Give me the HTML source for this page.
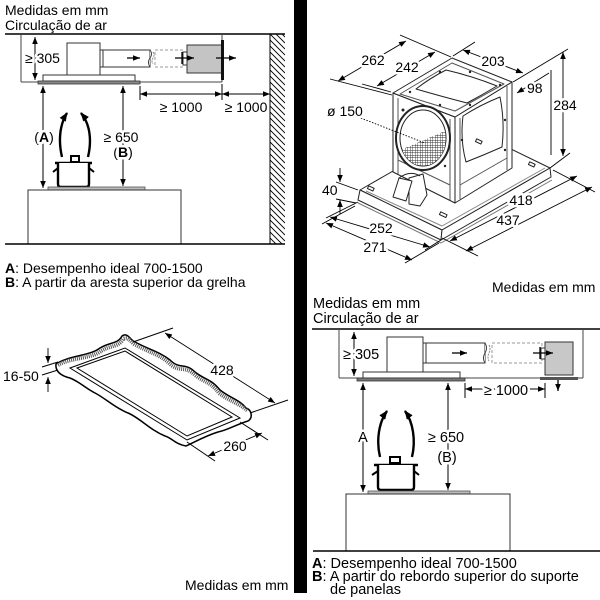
<!DOCTYPE html>
<html><head><meta charset="utf-8"><style>
html,body{margin:0;padding:0;background:#fff;}
svg{display:block;}
text{font-family:"Liberation Sans",Arial,sans-serif;fill:#000;}
.h{stroke:#fff;stroke-width:5;paint-order:stroke;stroke-linejoin:round;}
</style></head><body>
<svg width="600" height="600" viewBox="0 0 600 600" xmlns="http://www.w3.org/2000/svg">
<defs>
<marker id="a" viewBox="0 0 10 8" refX="10" refY="4" markerWidth="7" markerHeight="5.6" orient="auto-start-reverse" markerUnits="userSpaceOnUse"><path d="M0,0 L10,4 L0,8 z" fill="#000"/></marker>
<marker id="b" viewBox="0 0 10 8" refX="9" refY="4" markerWidth="9" markerHeight="8" orient="auto" markerUnits="userSpaceOnUse"><path d="M0,0 L10,4 L0,8 z" fill="#000"/></marker>
<clipPath id="wallc"><rect x="270" y="34" width="15" height="210"/></clipPath>
<clipPath id="circc"><ellipse cx="423" cy="138" rx="23" ry="28"/></clipPath>
<pattern id="grid" width="2.5" height="2.5" patternUnits="userSpaceOnUse"><rect width="2.5" height="2.5" fill="#fff"/><path d="M0,0 H2.5 M0,0 V2.5" stroke="#333" stroke-width="0.9"/></pattern>
</defs>
<rect width="600" height="600" fill="#fff"/>

<!-- divider -->
<rect x="294" y="0" width="13" height="593" fill="#000"/>

<!-- ================= TOP LEFT ================= -->
<text x="5" y="15" font-size="14">Medidas em mm</text>
<text x="5" y="30" font-size="14">Circulação de ar</text>
<line x1="5" y1="34" x2="285" y2="34" stroke="#000" stroke-width="1.5"/>
<g stroke="#444" stroke-width="1" fill="none">
<line x1="21" y1="34" x2="21" y2="82"/>
<line x1="21" y1="82" x2="222" y2="82"/>
<line x1="222" y1="34" x2="222" y2="82"/>
</g>
<rect x="67" y="43" width="33" height="32" fill="#fff" stroke="#333"/>
<rect x="100" y="50" width="50" height="17" fill="#fff" stroke="#333"/>
<line x1="103" y1="50" x2="103" y2="67" stroke="#333"/>
<path d="M150,50 q3,4 0,8 q-3,4 0,9" fill="#fff" stroke="#333"/>
<path d="M153,52 q2,3 0,6 q-2,3 0,6" fill="none" stroke="#888" stroke-dasharray="2,1"/>
<rect x="155" y="50" width="28" height="17" fill="none" stroke="#999" stroke-dasharray="3,2"/>
<rect x="183" y="52" width="4" height="13" fill="#fff" stroke="#333"/>
<rect x="187" y="45" width="35" height="28" fill="#c4c4c4" stroke="#333"/>
<rect x="221" y="40" width="3" height="40" fill="#111"/>
<line x1="127" y1="58" x2="140" y2="58" stroke="#000" stroke-width="1.3" marker-end="url(#a)"/>
<line x1="175" y1="58" x2="194" y2="58" stroke="#000" stroke-width="1.3" marker-end="url(#a)"/>
<line x1="182" y1="52" x2="182" y2="64" stroke="#000" stroke-width="1.3"/>
<line x1="216" y1="58" x2="236" y2="58" stroke="#000" stroke-width="1.3" marker-end="url(#a)"/>
<rect x="43" y="75" width="92" height="6" fill="#fff" stroke="#333"/>
<rect x="38" y="81" width="102" height="3" fill="#888" stroke="#333" stroke-width="0.8"/>
<line x1="35" y1="37" x2="35" y2="80" stroke="#000" marker-start="url(#a)" marker-end="url(#a)"/>
<text x="25" y="63" font-size="14" class="h">≥ 305</text>
<!-- wall -->
<line x1="270" y1="34" x2="270" y2="244" stroke="#000"/>
<g clip-path="url(#wallc)" stroke="#000" stroke-width="0.9">
<path d="M270,16 l15,15 M270,22 l15,15 M270,28 l15,15 M270,34 l15,15 M270,40 l15,15 M270,46 l15,15 M270,52 l15,15 M270,58 l15,15 M270,64 l15,15 M270,70 l15,15 M270,76 l15,15 M270,82 l15,15 M270,88 l15,15 M270,94 l15,15 M270,100 l15,15 M270,106 l15,15 M270,112 l15,15 M270,118 l15,15 M270,124 l15,15 M270,130 l15,15 M270,136 l15,15 M270,142 l15,15 M270,148 l15,15 M270,154 l15,15 M270,160 l15,15 M270,166 l15,15 M270,172 l15,15 M270,178 l15,15 M270,184 l15,15 M270,190 l15,15 M270,196 l15,15 M270,202 l15,15 M270,208 l15,15 M270,214 l15,15 M270,220 l15,15 M270,226 l15,15 M270,232 l15,15 M270,238 l15,15"/>
</g>
<!-- 1000 dims -->
<line x1="140" y1="86" x2="140" y2="100" stroke="#000"/>
<line x1="222" y1="84" x2="222" y2="100" stroke="#000"/>
<line x1="140" y1="94" x2="222" y2="94" stroke="#000" marker-start="url(#a)" marker-end="url(#a)"/>
<line x1="222" y1="94" x2="270" y2="94" stroke="#000" marker-start="url(#a)" marker-end="url(#a)"/>
<text x="181" y="112" font-size="14" text-anchor="middle">≥ 1000</text>
<text x="246" y="112" font-size="14" text-anchor="middle">≥ 1000</text>
<!-- verticals -->
<line x1="43" y1="86" x2="43" y2="188" stroke="#000" marker-start="url(#a)" marker-end="url(#a)"/>
<line x1="123" y1="86" x2="123" y2="186" stroke="#000" marker-start="url(#a)" marker-end="url(#a)"/>
<text x="44" y="142" font-size="14" text-anchor="middle" class="h">(<tspan font-weight="bold">A</tspan>)</text>
<text x="121" y="142" font-size="14" text-anchor="middle" class="h">≥ 650</text>
<text x="123" y="157" font-size="14" text-anchor="middle" class="h">(<tspan font-weight="bold">B</tspan>)</text>
<!-- arcs -->
<path d="M62,157 C58,140 60,124 67,113" fill="none" stroke="#000" stroke-width="2.4" marker-end="url(#b)"/>
<path d="M88,157 C92,140 90,124 81,113" fill="none" stroke="#000" stroke-width="2.4" marker-end="url(#b)"/>
<!-- pot -->
<rect x="71" y="156" width="8" height="6" fill="#fff" stroke="#000" stroke-width="2"/>
<line x1="55" y1="163" x2="92" y2="163" stroke="#000" stroke-width="2.4"/>
<path d="M58,163 V184 Q58,187 61,187 H86 Q89,187 89,184 V163" fill="#fff" stroke="#000" stroke-width="2.4"/>
<path d="M58,168 L53,172 M89,168 L94,172" stroke="#000" stroke-width="2"/>
<rect x="48" y="187" width="97" height="3" fill="#bbb" stroke="#555" stroke-width="0.8"/>
<rect x="28" y="190" width="153" height="54" fill="none" stroke="#333"/>
<line x1="5" y1="244" x2="285" y2="244" stroke="#000" stroke-width="1.5"/>
<text x="5" y="273" font-size="14"><tspan font-weight="bold">A</tspan>: Desempenho ideal 700-1500</text>
<text x="5" y="287" font-size="14"><tspan font-weight="bold">B</tspan>: A partir da aresta superior da grelha</text>

<!-- ================= TOP RIGHT ================= -->
<g stroke="#222" stroke-width="1" stroke-linejoin="round">
<polygon points="360,190 468,128 550,168 442,230" fill="#fff"/>
<polygon points="360,190 442,230 441,240 358,200" fill="#fff"/>
<polygon points="442,230 550,168 551,177 441,240" fill="#fff"/>
<line x1="358" y1="203" x2="441" y2="243" stroke="#777"/>
<line x1="441" y1="243" x2="552" y2="180" stroke="#777"/>
<line x1="366" y1="191" x2="442" y2="226" stroke="#888"/>
<line x1="442" y1="226" x2="545" y2="168" stroke="#888"/>
<polygon points="393,93 455,117 455,203 393,172" fill="#fff"/>
<polygon points="455,117 512,82 512,168 455,203" fill="#fff"/>
<polygon points="393,93 452,58 512,82 455,117" fill="#fff"/>
<polygon points="400,94 452,63 504,84 455,111" fill="none" stroke="#555"/>
<path d="M416,89 Q430,78 446,70 Q472,76 497,86 Q482,95 467,103 Q440,96 416,89 Z" fill="none"/>
<line x1="398" y1="98" x2="398" y2="174" stroke="#555"/>
<line x1="450" y1="119" x2="450" y2="200" stroke="#555"/>
<line x1="460" y1="118" x2="460" y2="199" stroke="#555"/>
<line x1="507" y1="86" x2="507" y2="170" stroke="#555"/>
<line x1="398" y1="160" x2="450" y2="185" stroke="#555"/>
<line x1="460" y1="185" x2="507" y2="158" stroke="#555"/>
<path d="M463,116 Q480,105 500,97 Q505,122 502,147 Q484,155 466,162 Q460,140 463,116 Z" fill="none"/>
<ellipse cx="423" cy="138" rx="27" ry="32" fill="#fff" stroke-width="2"/>
<ellipse cx="423" cy="138" rx="23" ry="28" fill="#fff"/>
</g>
<polygon points="396,152 452,128 452,172 396,172" fill="url(#grid)" clip-path="url(#circc)"/>
<g fill="#222">
<circle cx="410" cy="92" r="1.2"/><circle cx="440" cy="72" r="1.2"/><circle cx="470" cy="72" r="1.2"/><circle cx="500" cy="85" r="1.2"/><circle cx="470" cy="105" r="1.2"/><circle cx="440" cy="105" r="1.2"/>
<circle cx="403" cy="110" r="1.5"/><circle cx="445" cy="166" r="1.2"/><circle cx="462" cy="140" r="1.2"/><circle cx="505" cy="120" r="1.2"/><circle cx="505" cy="150" r="1.2"/>
</g>
<g stroke="#222" fill="#fff" stroke-linejoin="round">
<polygon points="409,178 423,174 427,195 420,206 409,204"/>
<polygon points="393,197 399,178 412,181 406,201"/>
<path d="M399,178 Q410,170 420,176" fill="none"/>
<rect x="368" y="187" width="6" height="3" transform="rotate(25 371 188)"/>
<rect x="440" y="213" width="7" height="3" transform="rotate(25 443 214)"/>
<rect x="529" y="163" width="6" height="3" transform="rotate(25 532 164)"/>
<rect x="476" y="140" width="6" height="3" transform="rotate(25 479 141)"/>
</g>
<g stroke="#000" stroke-width="0.9" fill="none">
<line x1="330" y1="79" x2="392" y2="95"/>
<line x1="362" y1="84" x2="391" y2="92"/>
<line x1="400" y1="35" x2="451" y2="57"/>
<line x1="453" y1="56" x2="475" y2="42"/>
<line x1="513" y1="82" x2="568" y2="49"/>
<line x1="551" y1="70" x2="551" y2="155"/>
<line x1="550" y1="168" x2="570" y2="153"/>
<line x1="336" y1="182" x2="358" y2="190"/>
<line x1="336" y1="199" x2="356" y2="203"/>
<line x1="358" y1="202" x2="326" y2="218"/>
<line x1="355" y1="206" x2="322" y2="224"/>
<line x1="441" y1="240" x2="425" y2="250"/>
<line x1="439" y1="243" x2="405" y2="263"/>
<line x1="442" y1="238" x2="478" y2="256"/>
<line x1="553" y1="170" x2="595" y2="192"/>
<line x1="358" y1="117" x2="425" y2="143" stroke-dasharray="1.5,1.5"/>
</g>
<g stroke="#000" stroke-width="0.9">
<line x1="338" y1="81" x2="406" y2="41" marker-start="url(#a)" marker-end="url(#a)"/>
<line x1="377" y1="86" x2="435" y2="52" marker-start="url(#a)" marker-end="url(#a)"/>
<line x1="463" y1="50" x2="523" y2="73" marker-start="url(#a)" marker-end="url(#a)"/>
<line x1="549" y1="73" x2="517" y2="93" marker-end="url(#a)"/>
<line x1="563" y1="52" x2="563" y2="156" marker-start="url(#a)" marker-end="url(#a)"/>
<line x1="340" y1="168" x2="340" y2="182" marker-end="url(#a)"/>
<line x1="340" y1="214" x2="340" y2="200" marker-end="url(#a)"/>
<line x1="450" y1="241" x2="577" y2="176" marker-start="url(#a)" marker-end="url(#a)"/>
<line x1="466" y1="251" x2="592" y2="187" marker-start="url(#a)" marker-end="url(#a)"/>
<line x1="330" y1="217" x2="430" y2="247" marker-start="url(#a)" marker-end="url(#a)"/>
<line x1="326" y1="223" x2="412" y2="260" marker-start="url(#a)" marker-end="url(#a)"/>
</g>
<text x="373" y="65" font-size="14" text-anchor="middle" class="h">262</text>
<text x="407" y="72" font-size="14" text-anchor="middle" class="h">242</text>
<text x="493" y="66" font-size="14" text-anchor="middle" class="h">203</text>
<text x="527" y="93" font-size="14" class="h">98</text>
<text x="565" y="110" font-size="14" text-anchor="middle" class="h">284</text>
<text x="327" y="116" font-size="14" class="h">ø 150</text>
<text x="322" y="195" font-size="14" class="h">40</text>
<text x="521" y="205" font-size="14" text-anchor="middle" class="h">418</text>
<text x="508" y="225" font-size="14" text-anchor="middle" class="h">437</text>
<text x="381" y="233" font-size="14" text-anchor="middle" class="h">252</text>
<text x="375" y="252" font-size="14" text-anchor="middle" class="h">271</text>
<text x="492" y="292" font-size="14">Medidas em mm</text>

<!-- ================= BOTTOM LEFT ================= -->
<path d="M56,364 C70,355 90,356 100,348 C110,342 118,344 122,336 C128,332 130,340 135,342 C150,350 160,352 170,360 C180,370 185,362 195,372 C205,380 210,378 220,390 C230,398 240,400 246,408 C252,410 253,418 248,421 C235,425 228,430 218,432 C205,436 195,442 186,446 C175,444 172,438 165,436 C150,430 140,418 128,413 C115,408 105,398 95,393 C85,388 80,382 70,378 C62,376 55,372 56,364 Z" fill="#fff" stroke="#000" stroke-width="1.5"/>
<path d="M58,365 C72,357 91,359 101,351 C111,345 119,347 123,339 C129,336 131,343 136,345 C151,353 160,355 169,363 C179,373 185,365 195,375 C205,383 210,381 219,393 C229,401 239,403 248,411" fill="none" stroke="#555" stroke-width="4" stroke-dasharray="1,1"/>
<g fill="none" stroke="#000" stroke-width="1">
<polygon points="70,368 125,348 240,418 187,440"/>
<polygon points="77,368 125,351 232,417 187,436"/>
<line x1="42" y1="367" x2="58" y2="362"/>
<line x1="42" y1="375" x2="58" y2="370"/>
<line x1="133" y1="342" x2="173" y2="328"/>
<line x1="250" y1="413" x2="288" y2="400"/>
<line x1="187" y1="442" x2="215" y2="461"/>
<line x1="240" y1="422" x2="268" y2="440"/>
</g>
<g stroke="#000" stroke-width="0.9">
<line x1="48" y1="348" x2="48" y2="363" marker-end="url(#a)"/>
<line x1="48" y1="392" x2="48" y2="377" marker-end="url(#a)"/>
<line x1="165" y1="333" x2="275" y2="403" marker-start="url(#a)" marker-end="url(#a)"/>
<line x1="208" y1="456" x2="262" y2="433" marker-start="url(#a)" marker-end="url(#a)"/>
</g>
<text x="3" y="381" font-size="14" class="h">16-50</text>
<text x="222" y="375" font-size="14" text-anchor="middle" class="h">428</text>
<text x="235" y="451" font-size="14" text-anchor="middle" class="h">260</text>
<text x="185" y="590" font-size="14">Medidas em mm</text>

<!-- ================= BOTTOM RIGHT ================= -->
<text x="313" y="308" font-size="14.5">Medidas em mm</text>
<text x="313" y="323" font-size="14.5">Circulação de ar</text>
<line x1="312" y1="329" x2="600" y2="329" stroke="#000" stroke-width="1.5"/>
<g stroke="#444" stroke-width="1" fill="none">
<line x1="339" y1="329" x2="339" y2="378"/>
<line x1="583" y1="329" x2="583" y2="378"/>
<line x1="339" y1="378" x2="583" y2="378"/>
</g>
<rect x="387" y="337" width="36" height="35" fill="#fff" stroke="#333"/>
<rect x="423" y="343" width="62" height="20" fill="#fff" stroke="#333"/>
<line x1="426" y1="343" x2="426" y2="363" stroke="#333"/>
<path d="M485,343 q3,5 0,10 q-3,5 0,10" fill="#fff" stroke="#333"/>
<path d="M489,345 q2,4 0,8 q-2,4 0,8" fill="none" stroke="#888" stroke-dasharray="2,1"/>
<rect x="492" y="343" width="50" height="20" fill="none" stroke="#999" stroke-dasharray="3,2"/>
<rect x="545" y="342" width="28" height="33" fill="#c8c8c8" stroke="#333"/>
<rect x="541" y="348" width="4" height="11" fill="#fff" stroke="#333"/>
<line x1="452" y1="353" x2="467" y2="353" stroke="#000" stroke-width="1.3" marker-end="url(#a)"/>
<line x1="533" y1="353" x2="553" y2="353" stroke="#000" stroke-width="1.3" marker-end="url(#a)"/>
<line x1="540" y1="347" x2="540" y2="359" stroke="#000" stroke-width="1.3"/>
<rect x="363" y="372" width="97" height="6" fill="#fff" stroke="#333"/>
<rect x="357" y="378" width="108" height="3" fill="#777" stroke="#333" stroke-width="0.8"/>
<rect x="540" y="377" width="38" height="3" fill="#555"/>
<line x1="558" y1="380" x2="558" y2="391" stroke="#000" stroke-width="1.3" marker-end="url(#a)"/>
<line x1="354" y1="332" x2="354" y2="376" stroke="#000" marker-start="url(#a)" marker-end="url(#a)"/>
<text x="343" y="359" font-size="14.5" class="h">≥ 305</text>
<line x1="465" y1="383" x2="465" y2="398" stroke="#000"/>
<line x1="545" y1="383" x2="545" y2="398" stroke="#000"/>
<line x1="465" y1="389" x2="545" y2="389" stroke="#000" marker-start="url(#a)" marker-end="url(#a)"/>
<text x="506" y="395" font-size="14.5" text-anchor="middle" class="h">≥ 1000</text>
<line x1="363" y1="383" x2="363" y2="492" stroke="#000" marker-start="url(#a)" marker-end="url(#a)"/>
<line x1="448" y1="383" x2="448" y2="490" stroke="#000" marker-start="url(#a)" marker-end="url(#a)"/>
<text x="363" y="442" font-size="14.5" text-anchor="middle" class="h">A</text>
<text x="446" y="442" font-size="14.5" text-anchor="middle" class="h">≥ 650</text>
<text x="447" y="462" font-size="14.5" text-anchor="middle" class="h">(B)</text>
<path d="M380,457 C376,440 379,422 387,411" fill="none" stroke="#000" stroke-width="2.4" marker-end="url(#b)"/>
<path d="M412,457 C416,440 413,422 405,411" fill="none" stroke="#000" stroke-width="2.4" marker-end="url(#b)"/>
<rect x="390" y="457" width="10" height="6" fill="#fff" stroke="#000" stroke-width="2"/>
<line x1="374" y1="465" x2="418" y2="465" stroke="#000" stroke-width="2.4"/>
<path d="M378,465 V487 Q378,490 381,490 H411 Q414,490 414,487 V465" fill="#fff" stroke="#000" stroke-width="2.4"/>
<path d="M378,471 L372,475 M414,471 L419,475" stroke="#000" stroke-width="2"/>
<rect x="368" y="491" width="102" height="3" fill="#bbb" stroke="#555" stroke-width="0.8"/>
<rect x="346" y="494" width="164" height="57" fill="none" stroke="#333"/>
<line x1="313" y1="551" x2="600" y2="551" stroke="#000" stroke-width="1.5"/>
<text x="312" y="568" font-size="14.5"><tspan font-weight="bold">A</tspan>: Desempenho ideal 700-1500</text>
<text x="312" y="581" font-size="14.5"><tspan font-weight="bold">B</tspan>: A partir do rebordo superior do suporte</text>
<text x="330" y="594" font-size="14.5">de panelas</text>
</svg>
</body></html>
